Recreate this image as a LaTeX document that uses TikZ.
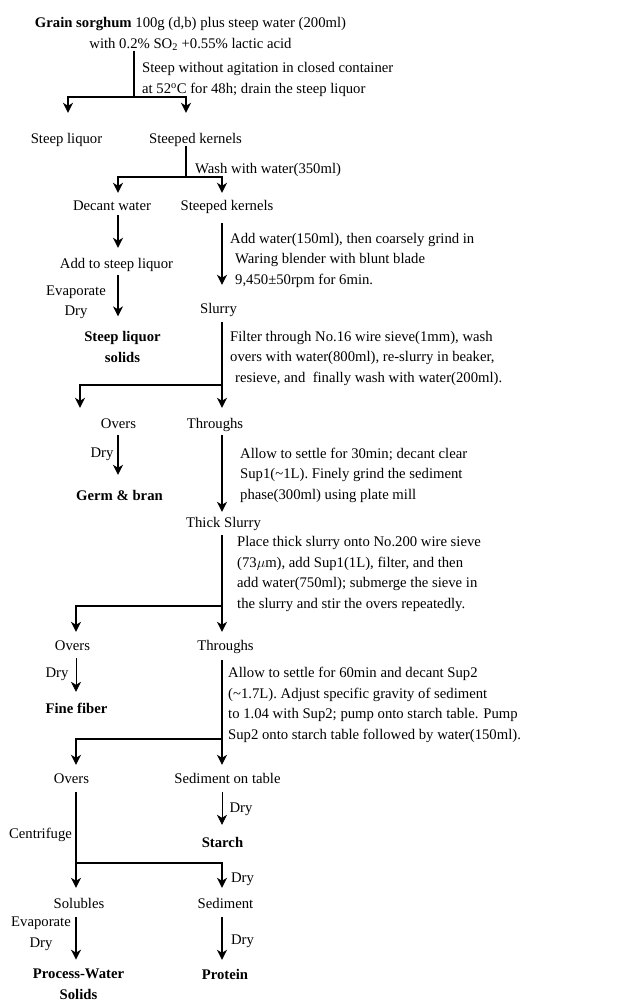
\documentclass[tikz,border=0pt]{standalone}
\usepackage{fontspec}
\setmainfont{Liberation Serif}
\usetikzlibrary{arrows.meta, positioning}

\begin{document}
\begin{tikzpicture}[x=1pt, y=-1pt,
    font=\fontsize{14.7}{20.5}\selectfont,
    prod/.style={inner sep=0, text height=10pt, text depth=3pt},
    prodtwo/.style={inner sep=0, align=center},
    note/.style={inner sep=0, anchor=west, align=left},
    lab/.style={inner sep=0, align=center},
    line/.style={draw, line width=1.5pt},
    arr/.style={line, -{Stealth[length=10pt, width=10pt, inset=3pt]}}
]
\useasboundingbox (0,0) rectangle (632,1001);

% Steeping
\node[prodtwo] (feed) at (190.5,34) {\textbf{Grain sorghum} 100g (d,b) plus steep water (200ml)\\with 0.2\% SO\textsubscript{2} +0.55\% lactic acid};
\node[note] (n1) at (142,79.5) {Steep without agitation in closed container\\at 52\textsuperscript{o}C for 48h; drain the steep liquor};
\node[prod] (liq) at (66.5,139.5) {Steep liquor};
\node[prod] (ker1) at (195.5,139.5) {Steeped kernels};
\coordinate (j1) at (134,97);
\draw[line, line width=1.2pt] (feed.south -| j1) -- (j1);
\draw[arr, shorten >=20pt] (j1) -| ([xshift=1.5pt]liq.north);
\draw[arr, shorten >=20pt] (j1) -| ([xshift=-9.5pt]ker1.north);

% Washing
\node[note] (n2) at (195,169.5) {Wash with water(350ml)};
\node[prod] (dec) at (112,206.5) {Decant water};
\node[prod] (ker2) at (227,206.5) {Steeped kernels};
\coordinate (j2) at (186,177);
\draw[line, line width=1.2pt] ([xshift=-9.5pt]ker1.south) -- (j2);
\draw[arr, shorten >=7pt] (j2) -| ([xshift=6pt]dec.north);
\draw[arr, shorten >=7pt] (j2) -| ([xshift=-5pt]ker2.north);

% Steep liquor branch
\node[prod] (add) at (116.5,264.5) {Add to steep liquor};
\node[lab] (ev1) at (76,302.5) {Evaporate\\Dry};
\node[prodtwo] (sls) at (122.5,347) {\textbf{Steep liquor}\\\textbf{solids}};
\draw[arr, shorten <=2pt, shorten >=10pt] ([xshift=6pt]dec.south) -- ([xshift=1.5pt]add.north);
\draw[arr, shorten <=4pt, shorten >=15pt] ([xshift=1.5pt]add.south) -- ([xshift=-4.5pt]sls.north);

% Coarse grinding
\node[note] (n3) at (230,260) {Add water(150ml), then coarsely grind in\\\hspace*{5pt}Waring blender with blunt blade\\\hspace*{5pt}9,450±50rpm for 6min.};
\node[prod] (slr) at (218.5,309.5) {Slurry};
\draw[arr, shorten <=10pt, shorten >=18pt] ([xshift=-5pt]ker2.south) -- ([xshift=3.5pt]slr.north);

% First sieving
\node[note] (n4) at (230,358) {Filter through No.16 wire sieve(1mm), wash\\overs with water(800ml), re-slurry in beaker,\\\hspace*{5pt}resieve, and\ \ finally wash with water(200ml).};
\node[prod] (ov1) at (118.5,424.5) {Overs};
\node[prod] (th1) at (215,424.5) {Throughs};
\coordinate (j3) at (222,385);
\draw[arr, line width=1.2pt, shorten <=6pt, shorten >=10pt] ([xshift=3.5pt]slr.south) -- ([xshift=7pt]th1.north);
\draw[arr, shorten >=10pt] (j3) -| ([xshift=-38.5pt]ov1.north);

% Germ and bran
\node[prod] (dry1) at (102,453.5) {Dry};
\node[prod] (germ) at (119.5,496.5) {\textbf{Germ \& bran}};
\draw[arr, line width=1.2pt, shorten <=4pt, shorten >=15pt] ([xshift=-0.5pt]ov1.south) -- ([xshift=-1.5pt]germ.north);

% Fine grinding
\node[note] (n5) at (240,475) {Allow to settle for 30min; decant clear\\Sup1(\textasciitilde1L). Finely grind the sediment\\phase(300ml) using plate mill};
\node[prod] (thk) at (223.5,523.5) {Thick Slurry};
\draw[arr, line width=1.2pt, shorten <=4pt, shorten >=5pt] ([xshift=7pt]th1.south) -- ([xshift=-1.5pt]thk.north);

% Second sieving
\node[note] (n6) at (237,574) {Place thick slurry onto No.200 wire sieve\\(73$\mu$m), add Sup1(1L), filter, and then\\add water(750ml); submerge the sieve in\\the slurry and stir the overs repeatedly.};
\node[prod] (ov2) at (72.5,646.5) {Overs};
\node[prod] (th2) at (225.5,646.5) {Throughs};
\coordinate (j4) at (222,606);
\draw[arr, line width=1.2pt, shorten <=5pt, shorten >=8pt] ([xshift=-1.5pt]thk.south) -- ([xshift=-3.5pt]th2.north);
\draw[arr, shorten >=8pt] (j4) -| ([xshift=3.5pt]ov2.north);

% Fine fiber
\node[prod] (dry2) at (57,673.5) {Dry};
\node[prod] (fib) at (76.5,709.5) {\textbf{Fine fiber}};
\draw[arr, line width=0.8pt, shorten <=5pt, shorten >=11pt] ([xshift=3.5pt]ov2.south) -- ([xshift=-0.5pt]fib.north);

% Starch table
\node[note] (n7) at (228,705) {Allow to settle for 60min and decant Sup2\\(\textasciitilde1.7L). Adjust specific gravity of sediment\\to 1.04 with Sup2; pump onto starch table. Pump\\Sup2 onto starch table followed by water(150ml).};
\node[prod] (ov3) at (71.5,779.5) {Overs};
\node[prod] (sed1) at (227.5,779.5) {Sediment on table};
\coordinate (j5) at (222,739);
\draw[arr, line width=1.2pt, shorten <=7pt, shorten >=8pt] ([xshift=-3.5pt]th2.south) -- ([xshift=-5.5pt]sed1.north);
\draw[arr, shorten >=8pt] (j5) -| ([xshift=4.5pt]ov3.north);

% Starch
\node[prod] (dry3) at (241,808.5) {Dry};
\node[prod] (sta) at (222.5,843.5) {\textbf{Starch}};
\draw[arr, line width=0.8pt, shorten <=6pt, shorten >=12pt] ([xshift=-5.5pt]sed1.south) -- ([xshift=-0.5pt]sta.north);

% Centrifuging
\node[prod] (cen) at (40.5,834.5) {Centrifuge};
\node[prod] (sol) at (79,904.5) {Solubles};
\node[prod] (sed2) at (225.5,904.5) {Sediment};
\node[prod] (dry4) at (242.5,878.5) {Dry};
\coordinate (j6) at (76,863);
\draw[arr, line width=1.2pt, shorten <=6pt, shorten >=10pt] ([xshift=4.5pt]ov3.south) -- ([xshift=-3pt]sol.north);
\draw[arr, shorten >=10pt] (j6) -| ([xshift=-3.5pt]sed2.north);

% Process water and protein
\node[lab] (ev2) at (41,934) {Evaporate\\Dry};
\node[prod] (dry5) at (242.5,940.5) {Dry};
\node[prodtwo] (pws) at (78.5,984) {\textbf{Process-Water}\\\textbf{Solids}};
\node[prod] (pro) at (225,975.5) {\textbf{Protein}};
\draw[arr, shorten <=6pt, shorten >=9pt] ([xshift=-3pt]sol.south) -- ([xshift=-2.5pt]pws.north);
\draw[arr, shorten <=6pt, shorten >=9pt] ([xshift=-3.5pt]sed2.south) -- ([xshift=-3pt]pro.north);

\end{tikzpicture}
\end{document}
